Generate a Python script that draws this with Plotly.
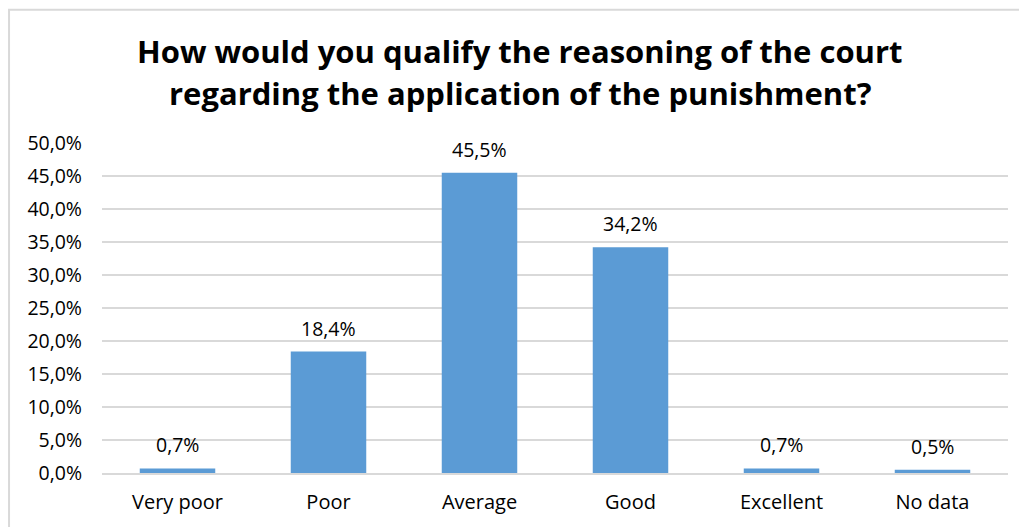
import plotly.graph_objects as go

categories = ["Very poor", "Poor", "Average", "Good", "Excellent", "No data"]
values = [0.7, 18.4, 45.5, 34.2, 0.7, 0.5]
labels = ["0,7%", "18,4%", "45,5%", "34,2%", "0,7%", "0,5%"]
tick_vals = [0, 5, 10, 15, 20, 25, 30, 35, 40, 45, 50]
tick_text = ["0,0%", "5,0%", "10,0%", "15,0%", "20,0%", "25,0%", "30,0%", "35,0%", "40,0%", "45,0%", "50,0%"]
title_lines = ["How would you qualify the reasoning of the court",
               "regarding the application of the punishment?"]

FONT = "Open Sans, Noto Sans, sans-serif"

fig = go.Figure(go.Bar(
    x=categories, y=values,
    marker=dict(color="#5B9BD5", line=dict(width=0)),
    width=0.5,
))

annotations = [
    dict(x=c, y=v, xref="x", yref="y", text=t, showarrow=False,
         yanchor="bottom", yshift=8, font=dict(size=19.5, color="#000000", family=FONT))
    for c, v, t in zip(categories, values, labels)
]
annotations += [
    dict(x=0.4614, y=1.0, xref="paper", yref="paper", yshift=shift, text=f"<b>{line}</b>",
         showarrow=False, xanchor="center", yanchor="middle",
         font=dict(size=31, color="#000000", family=FONT))
    for line, shift in zip(title_lines, [136 - 44, 136 - 86])
]

fig.update_layout(
    width=1019, height=519,
    margin=dict(l=94, r=19, t=135, b=52),
    paper_bgcolor="white", plot_bgcolor="white",
    font=dict(family=FONT, size=19, color="#000000"),
    showlegend=False,
    xaxis=dict(showgrid=False, showline=True, linecolor="#d9d9d9", linewidth=1.5,
               ticks="", ticklabelstandoff=10, tickfont=dict(size=20), fixedrange=True),
    yaxis=dict(range=[0, 50], tickvals=tick_vals, ticktext=tick_text,
               showgrid=True, gridcolor="#d9d9d9", gridwidth=1.5,
               zeroline=False, ticks="", ticklabelstandoff=19,
               tickfont=dict(size=19.5), fixedrange=True),
    annotations=annotations,
    shapes=[dict(type="rect", xref="paper", yref="paper",
                 x0=-0.1026, x1=1.2, y0=-0.4, y1=1.4036,
                 line=dict(color="#d9d9d9", width=2), layer="below")],
)

fig.write_html("out.html")
